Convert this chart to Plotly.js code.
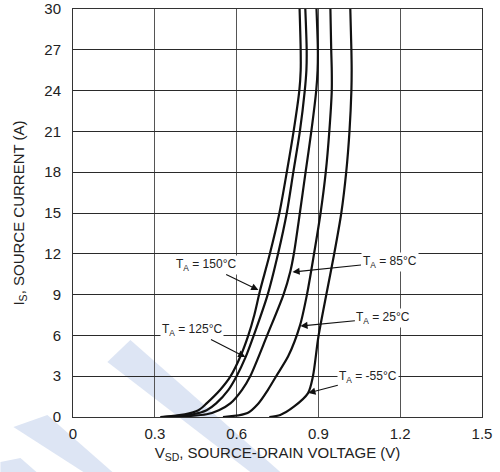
<!DOCTYPE html>
<html>
<head>
<meta charset="utf-8">
<script src="https://cdn.plot.ly/plotly-3.0.1.min.js"></script>
<style>html,body{margin:0;padding:0;background:#fff;}#chart{width:500px;height:472px;}</style>
</head>
<body>
<div id="chart"></div>
<script>
// Source current (A) points and source-drain voltage (V) for each temperature
const I_150 = [0, 0.2, 0.5, 1, 2, 3, 4.5, 6, 7.5, 9.3, 12, 15, 18, 21, 24, 25.5, 27, 30];
const V_150 = [0.32, 0.41, 0.46, 0.49, 0.54, 0.578, 0.615, 0.643, 0.665, 0.686, 0.722, 0.757, 0.784, 0.809, 0.830, 0.835, 0.835, 0.831];

const I_125 = [0, 0.2, 0.5, 1, 2, 3, 4.4, 6, 9, 12, 15, 18, 21, 24, 25.5, 27, 30];
const V_125 = [0.33, 0.44, 0.49, 0.525, 0.57, 0.6, 0.633, 0.663, 0.714, 0.752, 0.784, 0.808, 0.832, 0.850, 0.856, 0.857, 0.852];

const I_85 = [0, 0.2, 0.5, 1, 2, 3, 6, 9, 10.7, 12, 15, 18, 21, 24, 25.5, 27, 30];
const V_85 = [0.36, 0.49, 0.535, 0.577, 0.62, 0.65, 0.712, 0.772, 0.797, 0.81, 0.832, 0.853, 0.874, 0.892, 0.897, 0.898, 0.893];

const I_25 = [0, 0.3, 1, 2, 3, 4.5, 6.7, 9, 12, 15, 18, 21, 24, 25.5, 27, 30];
const V_25 = [0.55, 0.64, 0.68, 0.715, 0.745, 0.79, 0.832, 0.858, 0.884, 0.908, 0.927, 0.94, 0.949, 0.949, 0.947, 0.944];

const I_m55 = [0, 0.15, 0.76, 1.76, 3, 5.9, 9.1, 12, 15, 18, 21, 24, 25.5, 27, 30];
const V_m55 = [0.72, 0.76, 0.81, 0.862, 0.88, 0.9, 0.93, 0.958, 0.984, 1.002, 1.014, 1.021, 1.022, 1.021, 1.017];

// Annotation labels and the curve points their arrows point to
const labelText = ['T<sub>A</sub> = 150°C', 'T<sub>A</sub> = 125°C', 'T<sub>A</sub> = 85°C', 'T<sub>A</sub> = 25°C', 'T<sub>A</sub> = -55°C'];
const labelV = [0.68, 0.632, 0.805, 0.834, 0.863];
const labelI = [9.34, 4.41, 10.66, 6.69, 1.76];
const labelAx = [-52, -53, 97, 83, 60];
const labelAy = [-25, -27, -10, -8, -16];

const xTicks = [0, 0.3, 0.6, 0.9, 1.2, 1.5];
const yTicks = [0, 3, 6, 9, 12, 15, 18, 21, 24, 27, 30];

const series = [[V_150, I_150], [V_125, I_125], [V_85, I_85], [V_25, I_25], [V_m55, I_m55]];
const traces = series.map(s => ({
  x: s[0], y: s[1], type: 'scatter', mode: 'lines',
  line: {color: '#111', width: 2.2, shape: 'spline', smoothing: 0.8},
  hoverinfo: 'skip', showlegend: false
}));

const font = "'Liberation Sans', Arial, sans-serif";
const annotations = labelText.map((t, i) => ({
  x: labelV[i], y: labelI[i], xref: 'x', yref: 'y',
  text: t, showarrow: true, ax: labelAx[i], ay: labelAy[i],
  arrowhead: 2, arrowsize: 1.3, arrowwidth: 1.1, arrowcolor: '#111',
  bgcolor: '#fff', borderpad: 1,
  font: {family: font, size: 12, color: '#222'}
}));

function P(px, py) { return [((px - 72.6) / 409.2).toFixed(4), ((417 - py) / 408).toFixed(4)]; }
function poly(pts) { return 'M' + pts.map(p => P(p[0], p[1]).join(',')).join(' L') + ' Z'; }
const wm = '#dde5f4';
const shapes = [
  {type: 'path', xref: 'paper', yref: 'paper', layer: 'below', line: {width: 0}, fillcolor: wm,
   path: poly([[107, 362], [130, 340], [280, 472], [250, 472]])},
  {type: 'path', xref: 'paper', yref: 'paper', layer: 'below', line: {width: 0}, fillcolor: wm,
   path: poly([[13, 427], [47, 415], [112, 472], [83, 472]])},
  {type: 'path', xref: 'paper', yref: 'paper', layer: 'below', line: {width: 0}, fillcolor: wm,
   path: poly([[0, 462], [20, 458], [36, 472], [0, 472]])}
];

const layout = {
  width: 500, height: 472,
  margin: {l: 72.6, r: 18.2, t: 9, b: 55},
  paper_bgcolor: '#fff', plot_bgcolor: 'rgba(0,0,0,0)',
  font: {family: font, color: '#222'},
  xaxis: {
    range: [0, 1.5], tickvals: xTicks, ticktext: xTicks.map(v => v === 0 ? '0' : v.toFixed(1)),
    showgrid: true, gridcolor: '#555', gridwidth: 1, zeroline: false,
    showline: true, linecolor: '#333', linewidth: 1, mirror: true, ticks: '',
    ticklabelstandoff: 3,
    tickfont: {size: 15, color: '#222'},
    title: {text: 'V<sub>SD</sub>, SOURCE-DRAIN VOLTAGE (V)', font: {size: 15, color: '#222'}, standoff: 6}
  },
  yaxis: {
    range: [0, 30], tickvals: yTicks,
    showgrid: true, gridcolor: '#2a2a2a', gridwidth: 1, zeroline: false,
    showline: true, linecolor: '#333', linewidth: 1, mirror: true, ticks: '',
    ticklabelstandoff: 8,
    tickfont: {size: 15, color: '#222'},
    title: {text: 'I<sub>S</sub>, SOURCE CURRENT (A)', font: {size: 15, color: '#222'}, standoff: 16}
  },
  annotations: annotations,
  shapes: shapes,
  showlegend: false
};

Plotly.newPlot('chart', traces, layout, {staticPlot: true, displayModeBar: false});
</script>
</body>
</html>
